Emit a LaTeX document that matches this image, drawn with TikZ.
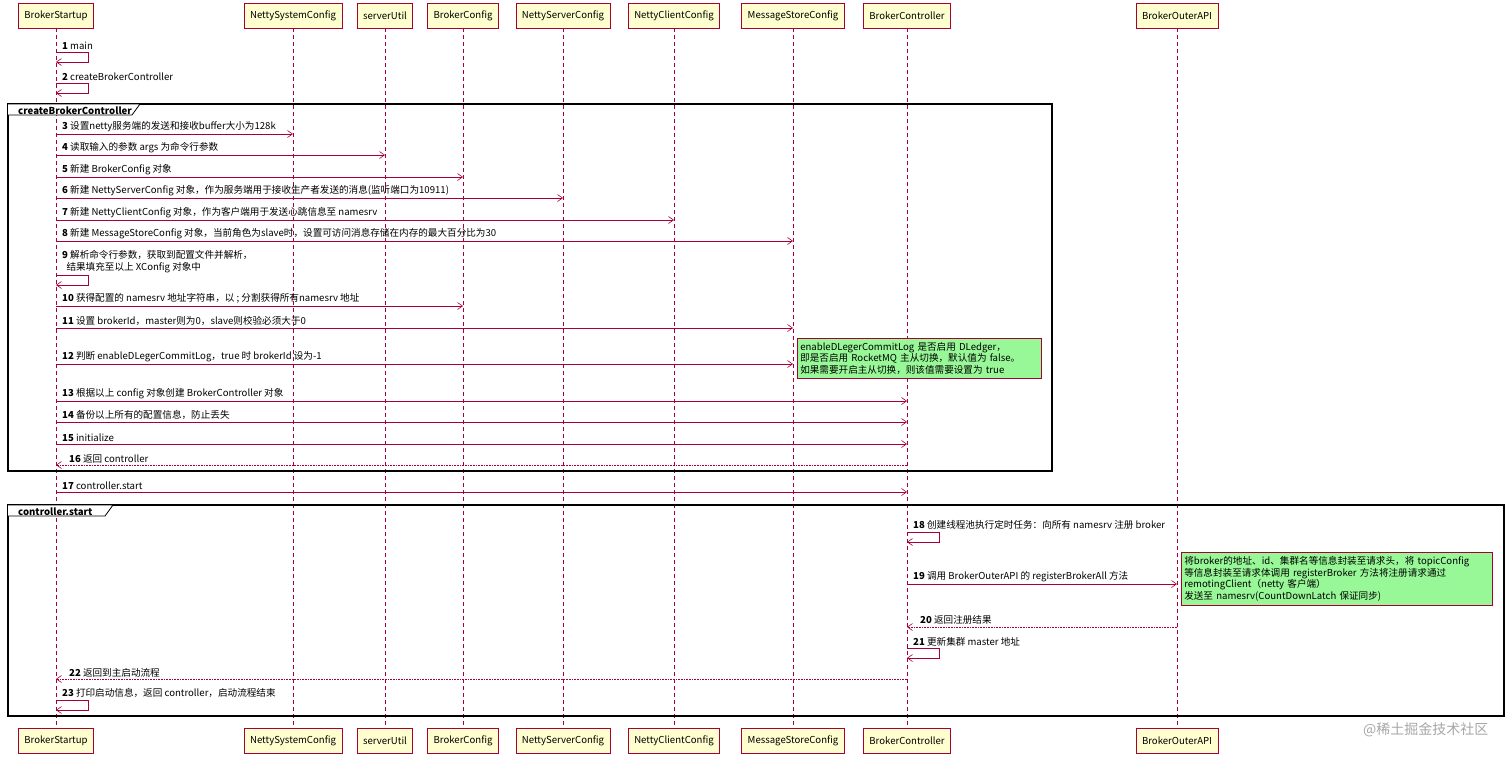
\documentclass[tikz,border=0pt]{standalone}
\usepackage{fontspec}
\setmainfont{Noto Sans CJK SC}
\usetikzlibrary{arrows.meta,positioning,calc,shapes.misc}
\definecolor{umlred}{HTML}{A80036}
\definecolor{umlhead}{HTML}{FEFECE}
\definecolor{umlnote}{HTML}{98F898}
\tikzset{
  >=Stealth,
  every node/.append style={font=\fontsize{9.6}{11.5}\selectfont},
  head/.style={draw=umlred, fill=umlhead, line width=0.8pt, minimum height=25pt, inner xsep=6pt},
  life/.style={draw=umlred, dashed, dash pattern=on 4pt off 3pt, line width=0.5pt},
  call/.style={-{Straight Barb[length=5pt,width=7pt]}, draw=umlred, line width=0.6pt},
  ret/.style={call, densely dotted},
  lbl/.style={anchor=south west, inner sep=1pt, align=left},
  frame/.style={draw=black, line width=1.3pt},
  note/.style={draw=umlred, fill=umlnote, line width=0.5pt, anchor=north west, align=left, inner sep=3pt, text width=#1},
}
\newcommand{\msg}[6][call]{% style, from, to, y, number, text
  \draw[#1] (#2 |- 0,#4) -- (#3 |- 0,#4);
  \node[lbl] at ($(#2 |- 0,#4)+(5,-1)$) {\textbf{#5} #6};}
\newcommand{\msgback}[5]{% return arrow: from, to, y, number, text
  \draw[ret] (#1 |- 0,#3) -- (#2 |- 0,#3);
  \node[lbl] at ($(#2 |- 0,#3)+(12,-1)$) {\textbf{#4} #5};}
\newcommand{\self}[4]{% on, y, number, text
  \draw[call] (#1 |- 0,#2) -- ++(32,0) -- ++(0,10) -- ++(-32,0);
  \node[lbl] at ($(#1 |- 0,#2)+(5,-1)$) {\textbf{#3} #4};}
\begin{document}
\begin{tikzpicture}[x=1pt,y=-1pt]
\useasboundingbox (0,0) rectangle (1512,761);

% participants (head and foot)
\foreach \name/\x/\txt in {bs/56/BrokerStartup, nsc/293/NettySystemConfig, su/385/serverUtil,
  bc/463/BrokerConfig, nsv/563/NettyServerConfig, ncc/674/NettyClientConfig,
  msc/793/MessageStoreConfig, ctl/907/BrokerController, api/1177/BrokerOuterAPI}{
  \node[head] (h-\name) at (\x,15.5) {\txt};
  \node[head] (f-\name) at (\x,740.5) {\txt};
  \draw[life] (h-\name) -- (f-\name);
}

% main
\self{h-bs}{52}{1}{main}
\self{h-bs}{83}{2}{createBrokerController}

% frame createBrokerController
\draw[frame] (8,104) rectangle (1052,471);
\draw[line width=0.8pt, fill=white] (8,104) -- (140,104) -- (132,115) -- (8,115);
\node[anchor=west, inner sep=0pt, font=\fontsize{9.6}{11}\selectfont\bfseries] (t1) at (18,110.5) {createBrokerController};

\msg{h-bs}{h-nsc}{134}{3}{设置netty服务端的发送和接收buffer大小为128k}
\msg{h-bs}{h-su}{155}{4}{读取输入的参数 args 为命令行参数}
\msg{h-bs}{h-bc}{177}{5}{新建 BrokerConfig 对象}
\msg{h-bs}{h-nsv}{198}{6}{新建 NettyServerConfig 对象，作为服务端用于接收生产者发送的消息(监听端口为10911)}
\msg{h-bs}{h-ncc}{220}{7}{新建 NettyClientConfig 对象，作为客户端用于发送心跳信息至 namesrv}
\msg{h-bs}{h-msc}{241}{8}{新建 MessageStoreConfig 对象，当前角色为slave时，设置可访问消息存储在内存的最大百分比为30}
\self{h-bs}{275}{9}{解析命令行参数，获取到配置文件并解析，\\\ \ 结果填充至以上 XConfig 对象中}
\msg{h-bs}{h-bc}{306}{10}{获得配置的 namesrv 地址字符串，以 ; 分割获得所有namesrv 地址}
\msg{h-bs}{h-msc}{328}{11}{设置 brokerId，master则为0，slave则校验必须大于0}
\msg{h-bs}{h-msc}{364}{12}{判断 enableDLegerCommitLog，true 时 brokerId 设为-1}
\node[note=238pt, minimum height=40pt] (n1) at (797,338) {enableDLegerCommitLog 是否启用 DLedger，\\ 即是否启用 RocketMQ 主从切换，默认值为 false。\\ 如果需要开启主从切换，则该值需要设置为 true};
\msg{h-bs}{h-ctl}{401}{13}{根据以上 config 对象创建 BrokerController 对象}
\msg{h-bs}{h-ctl}{422}{14}{备份以上所有的配置信息，防止丢失}
\msg{h-bs}{h-ctl}{444}{15}{initialize}
\msgback{h-ctl}{h-bs}{465}{16}{返回 controller}

\msg{h-bs}{h-ctl}{492}{17}{controller.start}

% frame controller.start
\draw[frame] (8,505) rectangle (1504,716);
\draw[line width=0.8pt, fill=white] (8,505) -- (113,505) -- (105,516) -- (8,516);
\node[anchor=west, inner sep=0pt, font=\fontsize{9.6}{11}\selectfont\bfseries] (t2) at (18,511.5) {controller.start};

\self{h-ctl}{532}{18}{创建线程池执行定时任务：向所有 namesrv 注册 broker}
\msg{h-ctl}{h-api}{584}{19}{调用 BrokerOuterAPI 的 registerBrokerAll 方法}
\node[note=305pt, minimum height=53pt] (n2) at (1181,552) {将broker的地址、id、集群名等信息封装至请求头，将 topicConfig\\ 等信息封装至请求体调用 registerBroker 方法将注册请求通过\\ remotingClient（netty 客户端）\\ 发送至 namesrv(CountDownLatch 保证同步)};
\msgback{h-api}{h-ctl}{627}{20}{返回注册结果}
\self{h-ctl}{648}{21}{更新集群 master 地址}
\msgback{h-ctl}{h-bs}{679}{22}{返回到主启动流程}
\self{h-bs}{700}{23}{打印启动信息，返回 controller，启动流程结束}

\node[anchor=east, text=black!35, font=\fontsize{14}{16}\selectfont] (wm) at (1492,730) {@稀土掘金技术社区};
\end{tikzpicture}
\end{document}
